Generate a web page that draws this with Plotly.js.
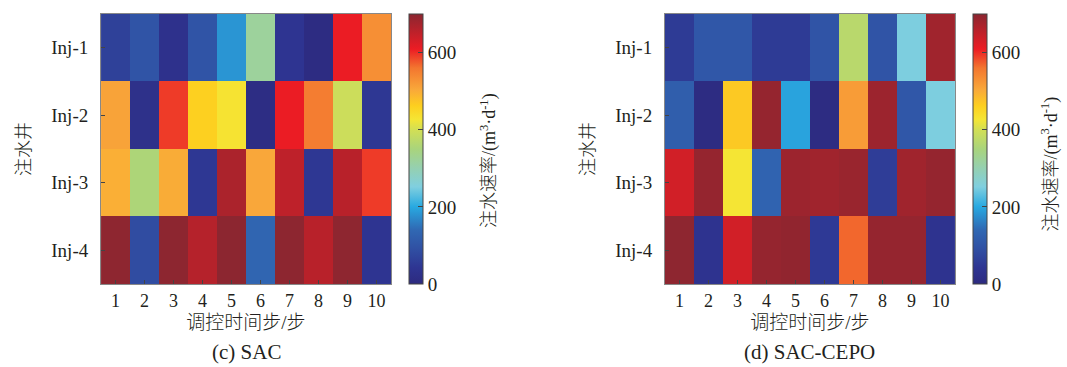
<!DOCTYPE html>
<html>
<head>
<meta charset="utf-8">
<script src="https://cdn.plot.ly/plotly-3.0.1.min.js"></script>
<style>html,body{margin:0;padding:0;background:#fff;}#chart{width:1067px;height:367px;}</style>
</head>
<body>
<div id="chart"></div>
<script>
// Categories
const steps = [1, 2, 3, 4, 5, 6, 7, 8, 9, 10];
const wells = ['Inj-1', 'Inj-2', 'Inj-3', 'Inj-4'];
const colorbarTicks = [0, 200, 400, 600];

// SAC injection rates (m3/d), rows = wells, columns = steps
const sacInj1 = [63, 100, 28, 100, 182, 320, 40, 7, 610, 532];
const sacInj2 = [510, 25, 592, 460, 430, 10, 610, 552, 392, 45];
const sacInj3 = [497, 355, 500, 45, 670, 505, 652, 45, 658, 592];
const sacInj4 = [697, 84, 698, 661, 699, 133, 698, 658, 697, 40];

// SAC-CEPO injection rates (m3/d)
const cepoInj1 = [52, 105, 105, 52, 52, 100, 370, 100, 250, 680];
const cepoInj2 = [119, 7, 468, 691, 195, 7, 518, 684, 105, 250];
const cepoInj3 = [634, 691, 427, 130, 684, 680, 687, 56, 680, 691];
const cepoInj4 = [697, 35, 634, 691, 694, 50, 568, 691, 691, 35];

const panelTitles = ['(c) SAC', '(d) SAC-CEPO'];
const xTitle = '调控时间步/步';
const yTitle = '注水井';
const cbTitle = '注水速率/(m<sup>3</sup>·d<sup>-1</sup>)';

const colorscale = [
  [0.00, '#2d2a7f'], [0.06, '#2e3592'], [0.13, '#3050a3'], [0.20, '#3068b3'],
  [0.286, '#28a9e1'], [0.36, '#80cfdf'], [0.43, '#95d0b0'], [0.50, '#a9d47c'],
  [0.571, '#d2df55'], [0.61, '#f5e534'], [0.66, '#fdcf1f'], [0.72, '#f9a83a'],
  [0.80, '#f3762f'], [0.87, '#ec1c24'], [1.00, '#8b2630']
];

const serif = '"Liberation Serif", "Times New Roman", serif';
const cjk = '"Liberation Serif", "Noto Sans CJK SC", serif';
const txt = '#231f20';

function cb(x) {
  return {
    x: x, xanchor: 'left', y: 0.594, yanchor: 'middle',
    thickness: 14, thicknessmode: 'pixels', len: 270, lenmode: 'pixels',
    xpad: 0, ypad: 0, outlinecolor: '#444', outlinewidth: 1,
    tickvals: colorbarTicks, ticks: 'inside', ticklen: 5, tickcolor: '#444',
    tickprefix: '\u2009',
    tickfont: {family: serif, size: 19, color: txt},
    title: {text: ''}
  };
}

const traces = [
  {type: 'heatmap', x: steps, y: wells, z: [sacInj1, sacInj2, sacInj3, sacInj4],
   xaxis: 'x', yaxis: 'y', coloraxis: 'coloraxis'},
  {type: 'heatmap', x: steps, y: wells, z: [cepoInj1, cepoInj2, cepoInj3, cepoInj4],
   xaxis: 'x2', yaxis: 'y2', coloraxis: 'coloraxis2'}
];

function xa(dom, anchor) {
  return {domain: dom, anchor: anchor, tickvals: steps, ticks: 'inside', ticklen: 4,
    tickcolor: '#444', showline: true, linecolor: '#888', mirror: true, showgrid: false,
    zeroline: false, tickfont: {family: serif, size: 18, color: txt},
    title: {text: xTitle, font: {family: cjk, size: 19, color: txt, weight: 300}, standoff: 6}};
}
function ya(anchor) {
  return {domain: [0.2262, 0.9619], anchor: anchor, autorange: 'reversed', ticks: 'inside',
    ticklen: 4, tickcolor: '#444', showline: true, linecolor: '#888', mirror: true,
    showgrid: false, zeroline: false, ticklabelstandoff: 8,
    tickfont: {family: serif, size: 19, color: txt},
    title: {text: yTitle, font: {family: cjk, size: 18, color: txt, weight: 300}, standoff: 15}};
}

const layout = {
  width: 1067, height: 367, margin: {l: 0, r: 0, t: 0, b: 0},
  paper_bgcolor: '#fff', plot_bgcolor: '#fff', showlegend: false,
  xaxis: xa([0.0947, 0.3664], 'y'), yaxis: ya('x'),
  xaxis2: xa([0.6232, 0.8950], 'y2'), yaxis2: ya('x2'),
  coloraxis: {cmin: 0, cmax: 700, colorscale: colorscale, colorbar: cb(0.3833)},
  coloraxis2: {cmin: 0, cmax: 700, colorscale: colorscale, colorbar: cb(0.9119)},
  annotations: [
    {text: panelTitles[0], x: 0.2306, y: 0.0409, xref: 'paper', yref: 'paper',
     xanchor: 'center', yanchor: 'middle', showarrow: false,
     font: {family: serif, size: 21, color: txt}},
    {text: panelTitles[1], x: 0.7591, y: 0.0409, xref: 'paper', yref: 'paper',
     xanchor: 'center', yanchor: 'middle', showarrow: false,
     font: {family: serif, size: 21, color: txt}},
    {text: cbTitle, x: 0.4583, y: 0.561, xref: 'paper', yref: 'paper', textangle: -90,
     xanchor: 'center', yanchor: 'middle', showarrow: false,
     font: {family: cjk, size: 18, color: txt, weight: 300}},
    {text: cbTitle, x: 0.9845, y: 0.553, xref: 'paper', yref: 'paper', textangle: -90,
     xanchor: 'center', yanchor: 'middle', showarrow: false,
     font: {family: cjk, size: 18, color: txt, weight: 300}}
  ]
};

Plotly.newPlot('chart', traces, layout, {displayModeBar: false, staticPlot: true});
</script>
</body>
</html>
